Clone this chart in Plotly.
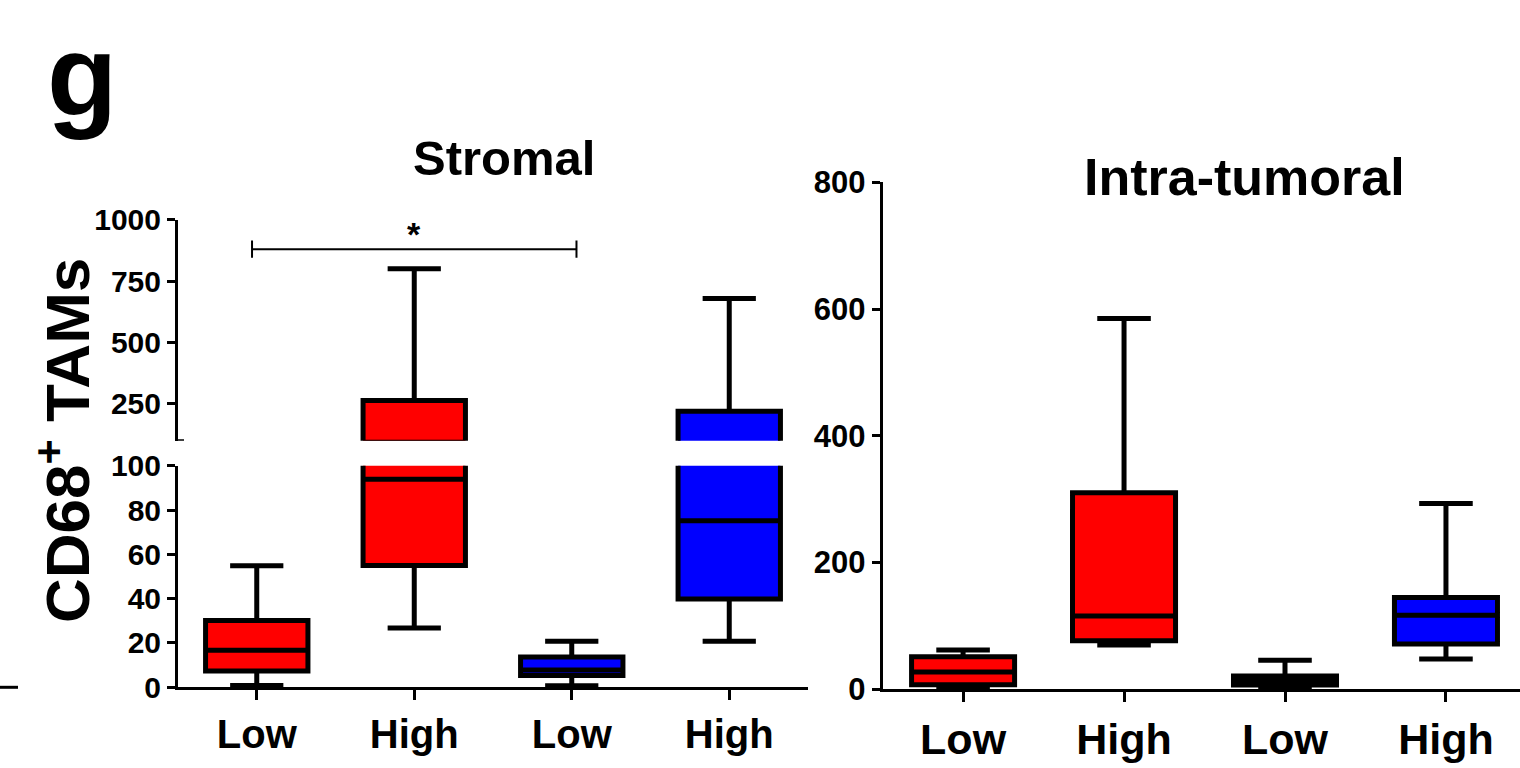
import plotly.graph_objects as go

W, H = 1520, 768

# ---------------- data ----------------
categories = ["Low", "High", "Low", "High"]
positions = [0, 1, 2, 3]

stromal_fill = ["#FF0000", "#FF0000", "#0000FF", "#0000FF"]
stromal_min = [0.8, 26.8, 0.7, 20.8]
stromal_q1 = [7.4, 55.0, 5.3, 39.8]
stromal_median = [16.7, 93.9, 7.8, 75.2]
stromal_q3 = [30.1, 264.0, 13.7, 220.0]
stromal_max = [54.9, 800.0, 20.8, 678.7]

intra_fill = ["#FF0000", "#FF0000", "#000000", "#0000FF"]
intra_min = [1.0, 70.0, 1.0, 47.8]
intra_q1 = [7.3, 76.7, 6.6, 71.5]
intra_median = [27.3, 115.6, 14.0, 117.0]
intra_q3 = [51.4, 310.0, 21.0, 145.0]
intra_max = [62.0, 585.0, 45.7, 293.0]

lower_ticks = [0, 20, 40, 60, 80, 100]
upper_ticks = [250, 500, 750, 1000]
intra_ticks = [0, 200, 400, 600, 800]

sig_from, sig_to, sig_level, sig_label = -0.03, 2.03, 880, "*"

FONT = "Liberation Sans, Arial, Helvetica, sans-serif"


def px_x(p):
    return p / W


def px_y(p):
    return 1 - p / H


fig = go.Figure()

box_line = dict(color="black", width=5)

for i in range(4):
    for xa, ya in (("x", "y"), ("x3", "y2")):
        fig.add_trace(go.Box(
            x=[positions[i]], q1=[stromal_q1[i]], median=[stromal_median[i]],
            q3=[stromal_q3[i]], lowerfence=[stromal_min[i]], upperfence=[stromal_max[i]],
            width=0.65, whiskerwidth=0.52, fillcolor=stromal_fill[i], line=box_line,
            boxpoints=False, xaxis=xa, yaxis=ya, showlegend=False, hoverinfo="skip"))
    fig.add_trace(go.Box(
        x=[positions[i]], q1=[intra_q1[i]], median=[intra_median[i]],
        q3=[intra_q3[i]], lowerfence=[intra_min[i]], upperfence=[intra_max[i]],
        width=0.64, whiskerwidth=0.52, fillcolor=intra_fill[i], line=box_line,
        boxpoints=False, xaxis="x2", yaxis="y3", showlegend=False, hoverinfo="skip"))

left_dom = [px_x(178), px_x(808)]
right_dom = [px_x(882.6), 1.0]

axis_common = dict(showline=True, linecolor="black", linewidth=3, ticks="outside",
                   tickwidth=3, tickcolor="black", showgrid=False, zeroline=False,
                   fixedrange=True, automargin=False)


def tf(size):
    return dict(family=FONT, size=size, color="black", weight="bold")


fig.update_layout(
    width=W, height=H, margin=dict(l=0, r=0, t=0, b=0, autoexpand=False),
    paper_bgcolor="white", plot_bgcolor="rgba(0,0,0,0)",
    xaxis=dict(domain=left_dom, range=[-0.5, 3.5], anchor="y", tickvals=positions,
               ticktext=categories, ticklen=10, tickfont=tf(40), **axis_common),
    xaxis3=dict(domain=left_dom, range=[-0.5, 3.5], anchor="y2", visible=False,
                fixedrange=True, automargin=False),
    yaxis=dict(domain=[px_y(687.3), px_y(465.7)], range=[0, 100], anchor="x",
               tickvals=lower_ticks, ticklen=8, tickfont=tf(30), **axis_common),
    yaxis2=dict(domain=[px_y(440.7), px_y(219.7)], range=[100, 1000], anchor="x3",
                tickvals=upper_ticks, ticklen=8, tickfont=tf(30), **axis_common),
    xaxis2=dict(domain=right_dom, range=[-0.5, 3.46], anchor="y3", tickvals=positions,
                ticktext=categories, ticklen=10, tickfont=tf(43), **axis_common),
    yaxis3=dict(domain=[px_y(689.3), px_y(182.3)], range=[0, 800], anchor="x2",
                tickvals=intra_ticks, ticklen=8, tickfont=tf(31), **axis_common),
)

# significance bracket
fig.add_shape(type="line", xref="x3", yref="y2", x0=sig_from, x1=sig_to,
              y0=sig_level, y1=sig_level, line=dict(color="black", width=2))
for xe in (sig_from, sig_to):
    fig.add_shape(type="line", xref="x3", yref="y2", x0=xe, x1=xe,
                  y0=sig_level - 35, y1=sig_level + 35, line=dict(color="black", width=2))
fig.add_annotation(x=(sig_from + sig_to) / 2, y=sig_level, xref="x3", yref="y2",
                   text=sig_label, showarrow=False, yanchor="bottom", yshift=-6,
                   font=tf(34))

# break-end mark on the upper segment
fig.add_shape(type="line", xref="paper", yref="y2", x0=px_x(175), x1=px_x(184),
              y0=100, y1=100, line=dict(color="black", width=3))
# stray dash at far left
fig.add_shape(type="line", xref="paper", yref="paper", x0=0, x1=px_x(18),
              y0=px_y(687.3), y1=px_y(687.3), line=dict(color="black", width=3))

# titles
fig.add_annotation(x=px_x(504), y=px_y(157.5), xref="paper", yref="paper",
                   text="Stromal", showarrow=False, xanchor="center", yanchor="middle",
                   font=tf(49))
fig.add_annotation(x=px_x(1244), y=px_y(177), xref="paper", yref="paper",
                   text="Intra-tumoral", showarrow=False, xanchor="center", yanchor="middle",
                   font=tf(52))
fig.add_annotation(x=px_x(82), y=px_y(76), xref="paper", yref="paper",
                   text="g", showarrow=False, xanchor="center", yanchor="middle",
                   font=tf(115))
fig.add_annotation(x=px_x(63), y=px_y(441), xref="paper", yref="paper",
                   text="CD68<sup>+</sup> TAMs", showarrow=False, textangle=-90,
                   xanchor="center", yanchor="middle", font=tf(62))

fig.write_html("out.html")
